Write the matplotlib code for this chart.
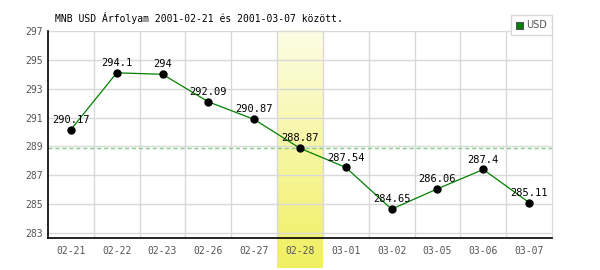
import numpy as np
import matplotlib.pyplot as plt
from matplotlib.patches import Rectangle
from matplotlib.colors import LinearSegmentedColormap

# adatok
napok = ['02-21', '02-22', '02-23', '02-26', '02-27', '02-28',
         '03-01', '03-02', '03-05', '03-06', '03-07']
arfolyam = [290.17, 294.1, 294.0, 292.09, 290.87, 288.87,
            287.54, 284.65, 286.06, 287.4, 285.11]
cimkek = ['290.17', '294.1', '294', '292.09', '290.87', '288.87',
          '287.54', '284.65', '286.06', '287.4', '285.11']
atlag = 288.9
kiemelt = 5
y_ticks = [283, 285, 287, 289, 291, 293, 295, 297]

plt.rcParams['font.family'] = ['DejaVu Sans Mono']

fig = plt.figure(figsize=(6, 2.7), dpi=100)
ax = fig.add_axes([48/600, 32/270, 504/600, 207/270])

x = np.arange(len(napok))
ax.set_xlim(-0.5, len(napok) - 0.5)
ax.set_ylim(282.65, 297)

# kiemelt nap sávja (színátmenet)
grad = np.linspace(0, 1, 256).reshape(-1, 1)
cmap = LinearSegmentedColormap.from_list('sarga', ['#fdfde6', '#f0ef60'])
ax.imshow(grad, cmap=cmap, aspect='auto', origin='upper',
          extent=(kiemelt - 0.5, kiemelt + 0.5, 280.55, 297),
          clip_on=False, zorder=0)

# rácsvonalak
for yt in y_ticks:
    ax.axhline(yt, color='#d9d9d9', lw=1, zorder=1)
for b in np.arange(0.5, len(napok) - 0.5, 1):
    ax.axvline(b, color='#d9d9d9', lw=1, zorder=1)

ax.axhline(atlag, color='#88cc88', lw=1, ls=(0, (3, 2)), zorder=2)

ax.plot(x, arfolyam, color='#008000', lw=0.9, zorder=3)
ax.plot(x, arfolyam, 'o', color='black', ms=5, zorder=4)
for xi, yi, c in zip(x, arfolyam, cimkek):
    ax.annotate(c, (xi, yi), xytext=(0, 5), textcoords='offset points',
                ha='center', va='baseline', fontsize=7.5, color='black', zorder=5)

ax.set_xticks(x)
ax.set_xticklabels(napok)
ax.set_yticks(y_ticks)
ax.tick_params(axis='both', length=0, labelsize=7, labelcolor='#555555')
ax.tick_params(axis='x', pad=6)
ax.tick_params(axis='y', pad=4)

ax.spines['top'].set_visible(False)
ax.spines['right'].set_color('#d9d9d9')
ax.spines['left'].set_color('black')
ax.spines['bottom'].set_color('black')
ax.spines['left'].set_linewidth(1.2)
ax.spines['bottom'].set_linewidth(1.2)

fig.text(55/600, 1 - 18/270, 'MNB USD Árfolyam 2001-02-21 és 2001-03-07 között.',
         fontsize=7, va='center', ha='left', color='black')

# jelmagyarázat
fig.patches.append(Rectangle((511/600, 1 - 35/270), 41/600, 20/270,
                             transform=fig.transFigure, facecolor='white',
                             edgecolor='#d9d9d9', lw=1, zorder=10))
fig.patches.append(Rectangle((516/600, 1 - 29/270), 7/600, 7/270,
                             transform=fig.transFigure, facecolor='#008000',
                             edgecolor='#555555', lw=0.8, zorder=11))
fig.text(526/600, 1 - 25.5/270, 'USD', fontsize=7, va='center', ha='left',
         color='#555555', family='DejaVu Sans', zorder=12)

fig.savefig('out.png', dpi=100)
